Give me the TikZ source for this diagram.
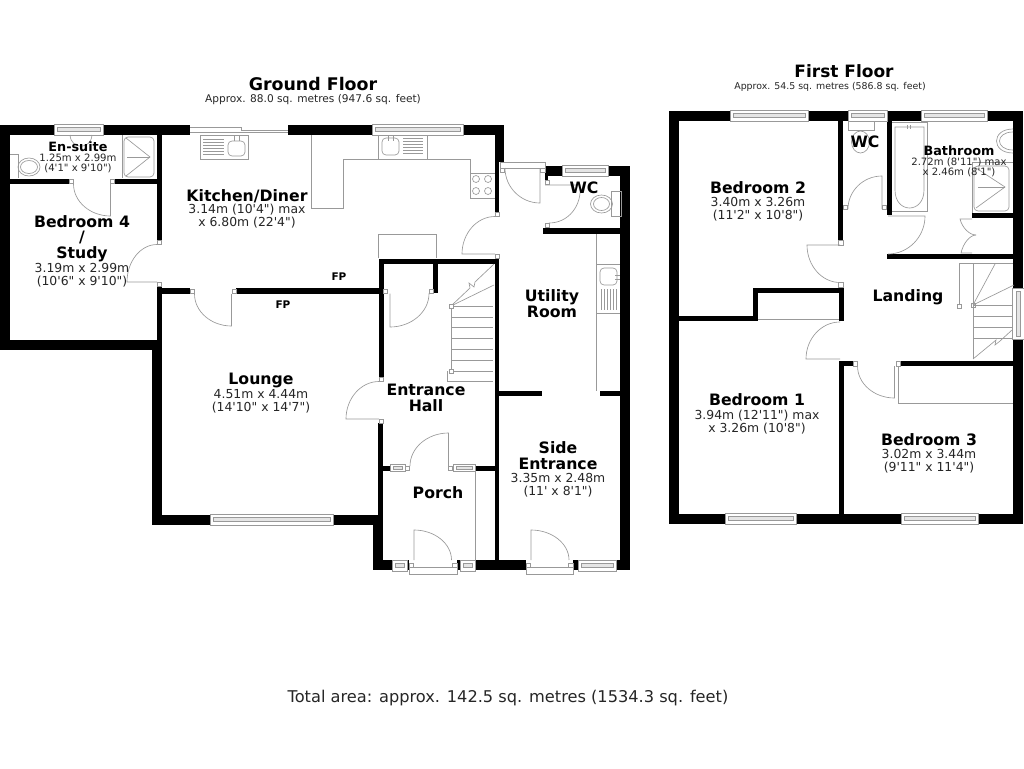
\documentclass[tikz,border=0pt]{standalone}
\usepackage{fontspec}
\setmainfont[Ligatures=TeXOff]{DejaVu Sans}
\usetikzlibrary{calc}

\tikzset{
    wall/.style={fill=black},
    fitting/.style={draw=black!40, line width=0.65pt},
    jamb/.style={draw=black!40, line width=0.55pt, fill=white},
    roomname/.style={font=\fontsize{15.7}{16}\selectfont\bfseries, align=center, inner sep=0pt},
    roomdim/.style={font=\fontsize{12.4}{13}\selectfont, text=black!85, align=center, inner sep=0pt, yshift=-0.8pt},
    smalldim/.style={font=\fontsize{10.1}{10.6}\selectfont, text=black!85, align=center, inner sep=0pt},
    fpmark/.style={font=\fontsize{10.5}{12}\selectfont\bfseries, inner sep=0pt}
}
\newcommand{\doorswing}[3]{\draw[fitting] (#1) -- (#2) .. controls ($(#2)+0.55*(#3)-0.55*(#1)$) and ($(#3)+0.55*(#2)-0.55*(#1)$) .. (#3);}

\begin{document}
\begin{tikzpicture}[x=1pt, y=-1pt]
    \useasboundingbox[fill=white] (0, 0) rectangle (1024, 768);
    %ground floor and first floor walls
    \foreach \xa/\ya/\xb/\yb in {0/125/54/135, 103/125/190/135, 0/125/10/350, 0/340/162/350, 152/340/162/525, 157/125/162/240, 157/287/162/340,
        10/179/69/184, 115/179/157/184, 162/288/190/294, 236/288/379/294, 288/125/372/135, 463/125/504/135, 495/125/504/162, 495/162/499/212, 495/258/499/560,
        545/166/562/176, 608/166/630/176, 620/166/630/570, 545/176/548/180, 543/228/621/234, 499/391/542/396, 600/391/620/396,
        379/259/499/264, 379/259/384/377, 433/264/438/293, 378/423/383/515, 383/466/390/471, 475/466/495/471,
        152/515/210/525, 333/515/383/525, 373/515/383/570, 373/560/392/570, 407/560/409/570, 457/560/460/570, 475/560/526/570, 573/560/578/570, 616/560/630/570,
        669/111/730/121, 808/111/848/121, 887/111/921/121, 987/111/1023/121, 669/111/679/524, 669/514/725/524, 796/514/901/524, 978/514/1023/524,
        1013/111/1023/288, 1013/339/1023/524, 838/111/843/240, 839/287/844/321, 753/288/844/293, 753/288/758/321, 679/316/758/321,
        839/361/844/524, 839/361/853/366, 900/361/1013/366, 887/121/892/215, 887/254/1013/259, 972/213/1013/218}
        \fill[wall] (\xa, \ya) rectangle (\xb, \yb);
    %windows
    \foreach \xa/\xb/\ya in {54/103/124, 372/463/124, 562/608/165, 210/333/514, 392/407/560, 460/475/560, 578/616/560,
        730/808/110, 848/887/110, 921/987/110, 725/796/513, 901/978/513} {
        \draw[jamb] (\xa, \ya) rectangle (\xb, \ya+11);
        \draw[fitting, fill=black!10] (\xa+3, \ya+3.5) rectangle (\xb-3, \ya+7);
    }
    \foreach \xa/\xb in {390/405, 453/475} {
        \draw[jamb] (\xa, 464.5) rectangle (\xb, 471);
        \draw[fitting, fill=black!10] (\xa+3, 466.5) rectangle (\xb-3, 469);
    }
    \draw[jamb] (1012.5, 288) rectangle (1024, 339);
    \draw[fitting, fill=black!10] (1016, 291) rectangle (1020, 336);
    %door frames
    \foreach \xa/\ya in {69/179, 110/179, 157/240, 157/282, 190/289, 232/289, 495/212, 495/254, 545/180, 545/223, 383/289, 429/289, 379/377, 379/419, 405/466, 448/466,
        838.5/240.5, 838.5/282.5, 853/361.5, 896/361.5, 843/205, 882/205, 957/304, 971/303}
        \draw[jamb] (\xa, \ya) rectangle (\xa+4.5, \ya+4.5);
    \foreach \xa/\xb in {409/457, 526/573} {
        \draw[jamb] (\xa, 567) rectangle (\xb, 574);
        \draw[jamb] (\xa, 563) rectangle (\xa+4.5, 567);
        \draw[jamb] (\xb-4.5, 563) rectangle (\xb, 567);
    }
    \draw[jamb] (500, 162) rectangle (545, 168);
    \draw[jamb] (500, 168) rectangle (504.5, 172);
    \draw[jamb] (540, 168) rectangle (545, 172);
    %door swings
    \doorswing{110.5,184}{110.5,216}{73.5,184}
    \doorswing{157,282}{127,282}{157,244.5}
    \doorswing{231.5,294}{231.5,326}{194.5,294}
    \doorswing{540,168}{540,203}{505,168}
    \doorswing{545,185}{580,185}{549,223}
    \doorswing{495,254}{462,254}{495,216.5}
    \doorswing{390,293.5}{390,327}{429,293.5}
    \doorswing{379,419}{346,419}{379,381.5}
    \doorswing{448.5,466}{448.5,433}{410,466}
    \doorswing{414,560}{414,530}{451.5,560}
    \doorswing{531,560}{531,530}{569,560}
    \doorswing{840,245}{807,245}{840,282.5}
    \doorswing{840,359}{806,359}{840,322}
    \doorswing{894.5,366}{894.5,398}{857.5,366}
    \doorswing{882,209}{882,176}{848,209}
    \doorswing{888,216}{925,216}{888,254}
    \doorswing{972,219}{960,219}{976,235}
    \doorswing{972,253}{961,253}{976,235}
    %kitchen
    \draw[fitting] (190, 127.5) -- (241, 127.5) -- (241, 130) -- (288, 130);
    \draw[fitting] (190, 132.5) -- (288, 132.5);
    \draw[fitting] (200, 135) rectangle (248, 159);
    \foreach \y in {139, 142, 145, 148, 151, 154}
        \draw[fitting] (203, \y) -- (224, \y);
    \draw[fitting, rounded corners=4pt] (228, 141) rectangle (245, 156);
    \draw[fitting] (234, 136) -- (234, 141) (239, 136) -- (239, 141);
    \draw[fitting] (311, 135) -- (311, 208) -- (343, 208) -- (343, 159) -- (470, 159) -- (470, 198) -- (495, 198);
    \draw[fitting] (470, 173) -- (495, 173);
    \draw[fitting] (378, 135) -- (378, 159);
    \draw[fitting] (427, 135) -- (427, 159);
    \draw[fitting, rounded corners=4pt] (382, 138) rectangle (399, 155);
    \draw[fitting] (388, 136) -- (388, 141) (393, 136) -- (393, 141);
    \foreach \y in {138, 141, 144, 147, 150, 153}
        \draw[fitting] (403, \y) -- (423, \y);
    \foreach \xa in {476, 488} {
        \draw[fitting] (\xa, 179) circle (3.5);
        \draw[fitting] (\xa, 191) circle (3.5);
    }
    \draw[fitting] (378, 258) -- (378, 234) -- (436, 234) -- (436, 258);
    %en-suite
    \draw[fitting] (10, 154) -- (18, 154) -- (18, 178);
    \draw[fitting] (29, 167) ellipse (11 and 9);
    \draw[fitting] (29, 167) ellipse (8.5 and 6.5);
    \draw[fitting] (122, 135) -- (122, 178);
    \draw[fitting, rounded corners=4pt] (124, 137) rectangle (154, 177);
    \draw[fitting] (127, 157) -- (150, 157);
    \draw[fitting] (126, 138) -- (150, 157) -- (126, 176);
    \draw[fitting] (70, 135) .. controls (71, 150) and (91, 150) .. (92, 135);
    %wc and utility
    \draw[fitting] (611, 191) rectangle (621, 216);
    \draw[fitting] (601.5, 204) ellipse (11 and 9);
    \draw[fitting] (601.5, 204) ellipse (8 and 6.5);
    \draw[fitting] (596, 234) -- (596, 391);
    \draw[fitting] (596, 264) -- (620, 264);
    \draw[fitting] (596, 313) -- (620, 313);
    \draw[fitting, rounded corners=4pt] (600, 268) rectangle (617, 285);
    \draw[fitting] (615, 275) -- (620, 275) (615, 279) -- (620, 279);
    \foreach \xa in {601, 604, 607, 610, 613, 616}
        \draw[fitting] (\xa, 289) -- (\xa, 310);
    %ground floor stairs
    \foreach \y in {306, 317, 327, 338, 349, 360, 371}
        \draw[fitting] (451, \y) -- (493, \y);
    \draw[fitting] (451, 306) -- (451, 371);
    \draw[fitting] (451, 306) -- (494, 285);
    \draw[fitting] (451, 306) -- (470, 288) -- (469, 283) -- (474, 287) -- (475, 282) -- (494, 264);
    \draw[fitting] (447, 371) -- (447, 381) -- (493, 381);
    \draw[jamb] (449, 304) rectangle (453, 308);
    \draw[jamb] (449, 369) rectangle (453, 373);
    \draw[fitting] (475.5, 471) -- (475.5, 560);
    %first floor fittings
    \draw[fitting] (758, 319) -- (839, 319);
    \draw[fitting] (898, 366) -- (898, 403.5) -- (1013, 403.5);
    \draw[fitting] (848, 121) -- (848, 130) -- (874, 130) -- (874, 121);
    \draw[fitting] (860.5, 142) ellipse (9 and 11);
    \draw[fitting] (892, 122) -- (927, 122) -- (927, 211) -- (892, 211);
    \draw[fitting] (895, 127) -- (924, 127) -- (924, 190) .. controls (924, 214) and (895, 214) .. (895, 190) -- cycle;
    \draw[fitting] (907, 125) -- (907, 129) (910, 125) -- (910, 129);
    \draw[fitting] (1013, 129) .. controls (991, 129) and (991, 153) .. (1013, 153);
    \draw[fitting] (1013, 132) .. controls (995, 132) and (995, 150) .. (1013, 150);
    \draw[fitting] (1013, 162) -- (972, 162) -- (972, 213);
    \draw[fitting, rounded corners=4pt] (974, 166) rectangle (1009, 211);
    \draw[fitting] (978, 187) -- (1005, 187);
    \draw[fitting] (976, 168) -- (1005, 187) -- (976, 208);
    %landing stairs
    \draw[fitting] (959, 305) -- (959, 263) -- (1013, 263);
    \draw[fitting] (973, 263) -- (973, 359);
    \foreach \y in {305, 316, 327, 338}
        \draw[fitting] (973, \y) -- (1012, \y);
    \draw[fitting] (973, 305) -- (995, 264);
    \draw[fitting] (973, 305) -- (1014, 285);
    \draw[fitting] (973, 359) -- (990, 345) -- (996, 340) -- (995, 345) -- (1000, 341) -- (1012, 330);
    %labels
    \node[font=\fontsize{17.4}{18}\selectfont\bfseries, inner sep=0pt] (groundtitle) at (313, 84) {Ground Floor};
    \node[smalldim, font=\fontsize{10.6}{12}\selectfont] (groundarea) at (313, 100) {Approx. 88.0 sq. metres (947.6 sq. feet)};
    \node[font=\fontsize{17}{18}\selectfont\bfseries, inner sep=0pt] (firsttitle) at (844, 71) {First Floor};
    \node[smalldim, font=\fontsize{9.4}{12}\selectfont] (firstarea) at (830, 87) {Approx. 54.5 sq. metres (586.8 sq. feet)};
    \node[font=\fontsize{16.2}{18}\selectfont, text=black!85, inner sep=0pt] (totalarea) at (508, 698) {Total area: approx. 142.5 sq. metres (1534.3 sq. feet)};
    \node[roomname, font=\fontsize{12.8}{14}\selectfont\bfseries] (ensuite) at (78, 147) {En-suite};
    \node[smalldim] (ensuitedim) at (78, 163.5) {1.25m x 2.99m\\(4'1" x 9'10")};
    \node[roomname, font=\fontsize{15.7}{15.6}\selectfont\bfseries] (bedfour) at (82, 238.5) {Bedroom 4\\/\\Study};
    \node[roomdim] (bedfourdim) at (82, 274.5) {3.19m x 2.99m\\(10'6" x 9'10")};
    \node[roomname] (kitchen) at (247, 196) {Kitchen/Diner};
    \node[roomdim] (kitchendim) at (247, 215.5) {3.14m (10'4") max\\x 6.80m (22'4")};
    \node[fpmark] (fpupper) at (339, 277) {FP};
    \node[fpmark] (fplower) at (283, 305) {FP};
    \node[roomname] (lounge) at (261, 380) {Lounge};
    \node[roomdim] (loungedim) at (261, 400.5) {4.51m x 4.44m\\(14'10" x 14'7")};
    \node[roomname] (hall) at (426, 398) {Entrance\\Hall};
    \node[roomname] (utility) at (552, 304) {Utility\\Room};
    \node[roomname] (wcground) at (584, 188) {WC};
    \node[roomname] (side) at (558, 456) {Side\\Entrance};
    \node[roomdim] (sidedim) at (558, 484.5) {3.35m x 2.48m\\(11' x 8'1")};
    \node[roomname] (porch) at (438, 493) {Porch};
    \node[roomname] (bedtwo) at (758, 188) {Bedroom 2};
    \node[roomdim] (bedtwodim) at (758, 208) {3.40m x 3.26m\\(11'2" x 10'8")};
    \node[roomname] (wcfirst) at (865, 142) {WC};
    \node[roomname, font=\fontsize{12.8}{14}\selectfont\bfseries] (bathroom) at (959, 151) {Bathroom};
    \node[smalldim] (bathroomdim) at (959, 167.5) {2.72m (8'11") max\\x 2.46m (8'1")};
    \node[roomname] (landing) at (908, 297) {Landing};
    \node[roomname] (bedone) at (757, 400) {Bedroom 1};
    \node[roomdim] (bedonedim) at (757, 421.5) {3.94m (12'11") max\\x 3.26m (10'8")};
    \node[roomname] (bedthree) at (929, 440) {Bedroom 3};
    \node[roomdim] (bedthreedim) at (929, 460) {3.02m x 3.44m\\(9'11" x 11'4")};
\end{tikzpicture}
\end{document}
